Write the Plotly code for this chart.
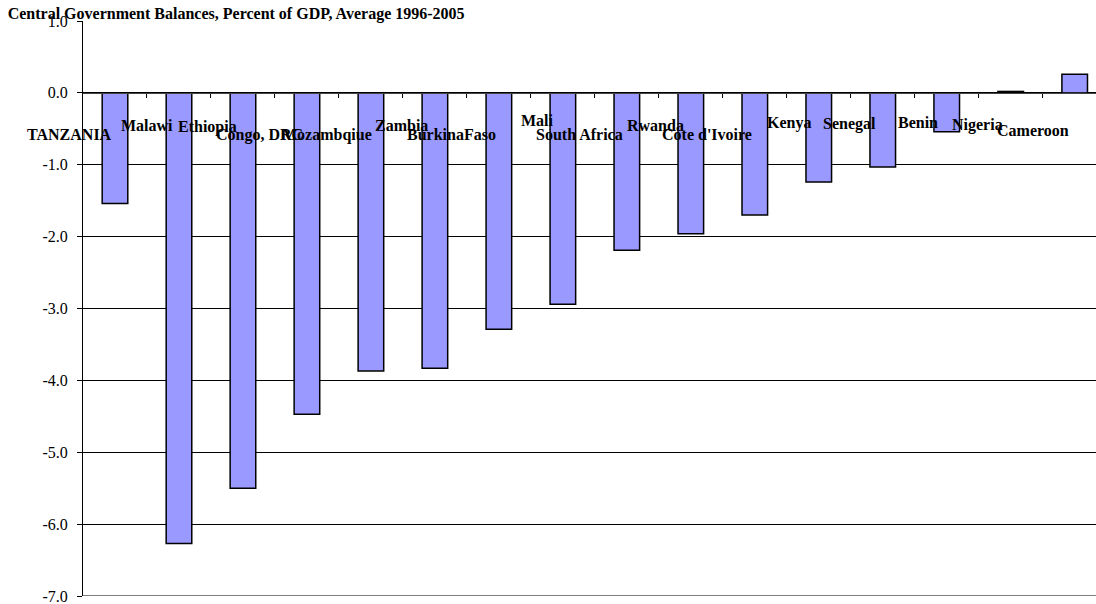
import plotly.graph_objects as go

# Central government balances, % of GDP, average 1996-2005
countries = ["TANZANIA", "Malawi", "Ethiopia", "Congo, DRC", "Mozambqiue", "Zambia",
             "BurkinaFaso", "Mali", "South Africa", "Rwanda", "Cote d'Ivoire", "Kenya",
             "Senegal", "Benin", "Nigeria", "Cameroon"]
balances = [-1.54, -6.27, -5.50, -4.47, -3.87, -3.83, -3.29, -2.94, -2.19, -1.96,
            -1.70, -1.24, -1.03, -0.54, 0.02, 0.26]

y_ticks = [1, 0, -1, -2, -3, -4, -5, -6, -7]
y_tick_text = ["1.0", "0.0", "-1.0", "-2.0", "-3.0", "-4.0", "-5.0", "-6.0", "-7.0"]

# label placement (pixel shift from bar centre, height in axis units)
label_dx = [-45, -32, -35, -47, -44, -33, -47, -25, -47, -35, -48, -30, -33, -29, -33, -42]
label_y = [-0.58, -0.45, -0.47, -0.58, -0.58, -0.45, -0.58, -0.38, -0.58, -0.46,
           -0.58, -0.42, -0.43, -0.41, -0.45, -0.52]

xs = list(range(len(countries)))

fig = go.Figure()
fig.add_trace(go.Bar(
    x=xs, y=balances,
    marker=dict(color="#9999FF", line=dict(color="black", width=1.5)),
    width=0.4,
    hoverinfo="skip",
))

for x, name, dx, ly in zip(xs, countries, label_dx, label_y):
    fig.add_annotation(
        x=x, y=ly, xref="x", yref="y", text=f"<b>{name}</b>", showarrow=False,
        xshift=dx, font=dict(family="Liberation Serif", size=16, color="black"),
        xanchor="center", yanchor="middle",
    )

# gridline along the bottom of the value axis
fig.add_shape(type="line", xref="paper", yref="y", x0=0, x1=1,
              y0=y_ticks[-1], y1=y_ticks[-1], line=dict(color="black", width=1),
              layer="below")

fig.update_layout(
    width=1096, height=604,
    margin=dict(l=83, r=0, t=21, b=8),
    paper_bgcolor="white", plot_bgcolor="white",
    showlegend=False,
    title=dict(
        text="<b>Central Government Balances, Percent of GDP, Average 1996-2005</b>",
        x=0.007, xanchor="left", y=0.977, yanchor="middle",
        font=dict(family="Liberation Serif", size=16, color="black"),
    ),
    xaxis=dict(
        range=[-0.5, 15.333],
        anchor="free", position=0.875,
        showline=True, linecolor="#444", linewidth=1,
        showgrid=False, zeroline=False,
        showticklabels=False,
        tickmode="array", tickvals=[i + 0.5 for i in range(len(countries) - 1)],
        ticks="outside", ticklen=4, tickcolor="black", tickwidth=1,
    ),
    yaxis=dict(
        range=[-7, 1],
        tickmode="array", tickvals=y_ticks, ticktext=y_tick_text,
        showline=True, linecolor="black", linewidth=1,
        showgrid=True, gridcolor="black", gridwidth=1,
        zeroline=False,
        ticks="outside", ticklen=5, tickcolor="black",
        ticklabelstandoff=6, ticklabeloverflow="allow",
        tickfont=dict(family="Liberation Serif", size=16, color="black"),
    ),
)

fig.write_html("out.html")
